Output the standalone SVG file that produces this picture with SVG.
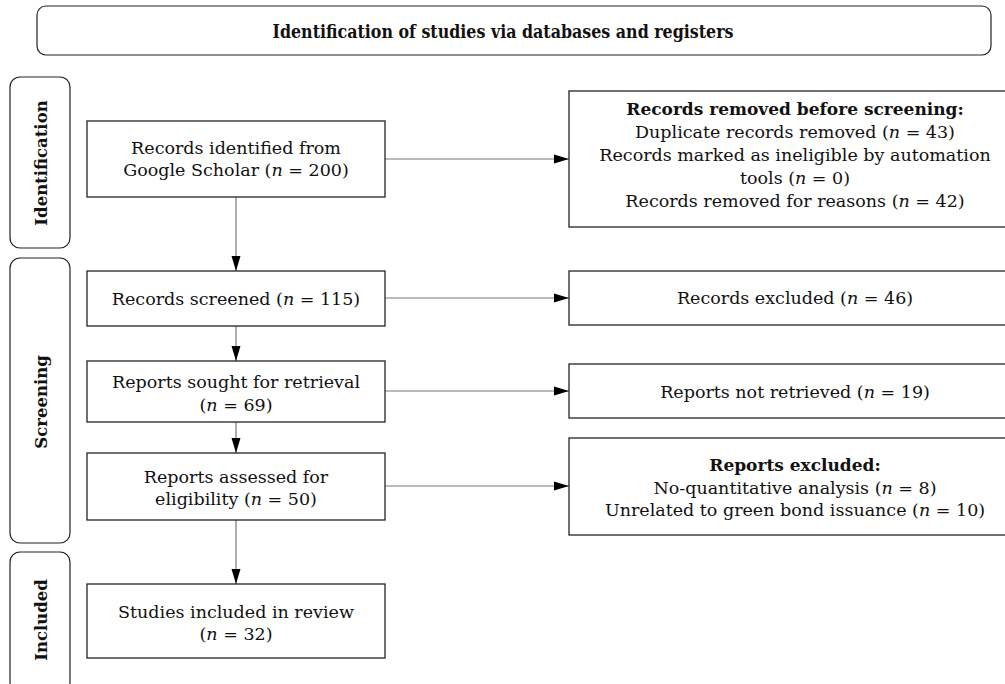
<svg xmlns="http://www.w3.org/2000/svg" width="1005" height="684" viewBox="0 0 1005 684">
<style>
text{font-family:"DejaVu Serif","Liberation Serif",serif;font-size:17.5px;fill:#111;text-anchor:middle}
.b{font-weight:bold;font-size:17px}
.t{font-weight:bold;font-size:19px}
.side{font-weight:bold;font-size:16.5px}
.box{fill:#fff;stroke:#222;stroke-width:1.3}
.rbox{fill:#fff;stroke:#222;stroke-width:1.2}
.conn{stroke:#777;stroke-width:1.2;fill:none;marker-end:url(#ah)}
</style>
<defs>
<marker id="ah" markerWidth="15" markerHeight="10" refX="15" refY="5" orient="auto" markerUnits="userSpaceOnUse">
<path d="M0,0.5 L15,5 L0,9.5 Z" fill="#000"/>
</marker>
</defs>
<rect width="1005" height="684" fill="#fff"/>
<g id="title">
<rect class="rbox" x="37" y="6" width="954" height="49" rx="9"/>
<text class="t" x="503" y="38" textLength="461" lengthAdjust="spacingAndGlyphs">Identification of studies via databases and registers</text>
</g>
<g id="phase-identification">
<rect class="rbox" x="10" y="77" width="60" height="171" rx="10"/>
<text class="side" transform="translate(47,163) rotate(-90)">Identification</text>
</g>
<g id="phase-screening">
<rect class="rbox" x="10" y="258" width="60" height="285" rx="10"/>
<text class="side" transform="translate(47,402) rotate(-90)">Screening</text>
</g>
<g id="phase-included">
<rect class="rbox" x="10" y="552" width="60" height="140" rx="10"/>
<text class="side" transform="translate(47,620) rotate(-90)">Included</text>
</g>
<g id="connectors">
<line class="conn" x1="385" y1="159" x2="569" y2="159"/>
<line class="conn" x1="236" y1="197" x2="236" y2="271"/>
<line class="conn" x1="385" y1="298" x2="569" y2="298"/>
<line class="conn" x1="236" y1="326" x2="236" y2="361"/>
<line class="conn" x1="385" y1="391" x2="569" y2="391"/>
<line class="conn" x1="236" y1="422" x2="236" y2="453"/>
<line class="conn" x1="385" y1="486" x2="569" y2="486"/>
<line class="conn" x1="236" y1="520" x2="236" y2="584"/>
</g>
<g id="n-identified">
<rect class="box" x="87" y="121" width="298" height="76"/>
<text x="236" y="154">Records identified from</text>
<text x="236" y="176">Google Scholar (<tspan font-style="italic">n</tspan> = 200)</text>
</g>
<g id="n-removed">
<rect class="box" x="569" y="91" width="450" height="136"/>
<text class="b" x="795" y="115">Records removed before screening:</text>
<text x="795" y="138">Duplicate records removed (<tspan font-style="italic">n</tspan> = 43)</text>
<text x="795" y="161">Records marked as ineligible by automation</text>
<text x="795" y="184">tools (<tspan font-style="italic">n</tspan> = 0)</text>
<text x="795" y="207">Records removed for reasons (<tspan font-style="italic">n</tspan> = 42)</text>
</g>
<g id="n-screened">
<rect class="box" x="87" y="271" width="298" height="55"/>
<text x="236" y="305">Records screened (<tspan font-style="italic">n</tspan> = 115)</text>
</g>
<g id="n-excluded">
<rect class="box" x="569" y="271" width="450" height="54"/>
<text x="795" y="304">Records excluded (<tspan font-style="italic">n</tspan> = 46)</text>
</g>
<g id="n-sought">
<rect class="box" x="87" y="361" width="298" height="61"/>
<text x="236" y="388">Reports sought for retrieval</text>
<text x="236" y="411">(<tspan font-style="italic">n</tspan> = 69)</text>
</g>
<g id="n-not-retrieved">
<rect class="box" x="569" y="364" width="450" height="54"/>
<text x="795" y="398">Reports not retrieved (<tspan font-style="italic">n</tspan> = 19)</text>
</g>
<g id="n-assessed">
<rect class="box" x="87" y="453" width="298" height="67"/>
<text x="236" y="483">Reports assessed for</text>
<text x="236" y="505">eligibility (<tspan font-style="italic">n</tspan> = 50)</text>
</g>
<g id="n-reports-excluded">
<rect class="box" x="569" y="438" width="450" height="97"/>
<text class="b" x="795" y="471">Reports excluded:</text>
<text x="795" y="494">No-quantitative analysis (<tspan font-style="italic">n</tspan> = 8)</text>
<text x="795" y="516">Unrelated to green bond issuance (<tspan font-style="italic">n</tspan> = 10)</text>
</g>
<g id="n-included">
<rect class="box" x="87" y="584" width="298" height="74"/>
<text x="236" y="618">Studies included in review</text>
<text x="236" y="640">(<tspan font-style="italic">n</tspan> = 32)</text>
</g>
</svg>
